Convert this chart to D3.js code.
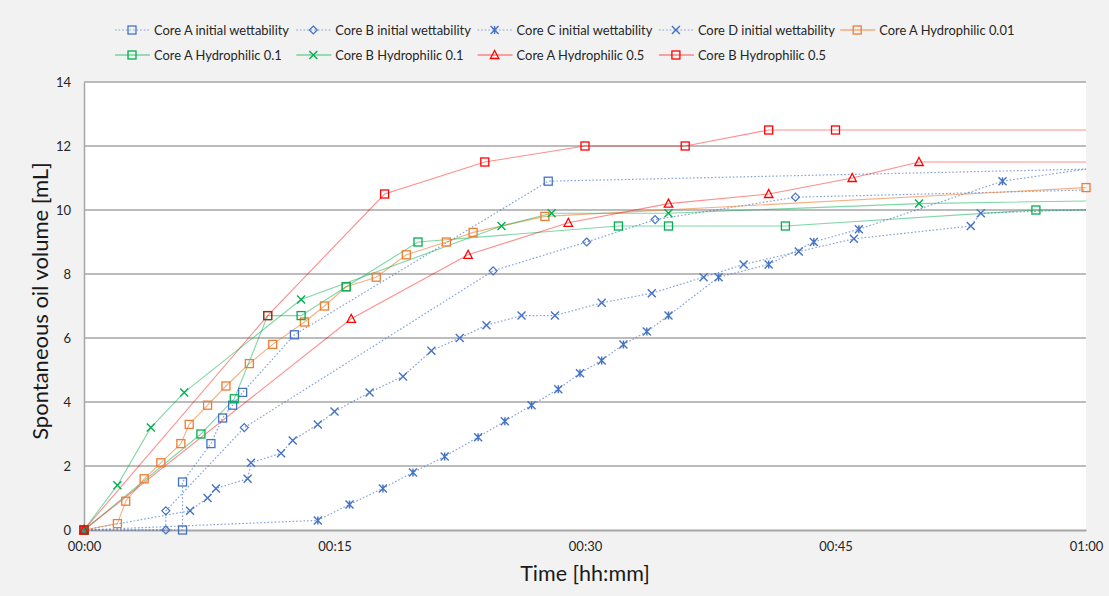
<!DOCTYPE html>
<html>
<head>
<meta charset="utf-8">
<script src="https://cdn.jsdelivr.net/npm/d3@7"></script>
<style>
  html, body { margin: 0; padding: 0; background: #f2f2f2; }
  svg { display: block; font-family: Lato, "Noto Sans", sans-serif; }
</style>
</head>
<body>
<svg id="chart" width="1109" height="596"></svg>
<script>
// ---------- DATA (time in minutes, volume in mL) ----------
const seriesNames = [
  "Core A initial wettability", "Core B initial wettability", "Core C initial wettability",
  "Core D initial wettability", "Core A Hydrophilic 0.01", "Core A Hydrophilic 0.1",
  "Core B Hydrophilic 0.1", "Core A Hydrophilic 0.5", "Core B Hydrophilic 0.5"
];

const coreAInitTime = [0, 5.9, 5.9, 7.6, 8.3, 8.9, 9.5, 12.6, 27.8, 62];
const coreAInitVol  = [0, 0, 1.5, 2.7, 3.5, 3.9, 4.3, 6.1, 10.9, 11.3];

const coreBInitTime = [0, 4.9, 4.9, 9.6, 24.5, 30.1, 34.2, 42.6, 62];
const coreBInitVol  = [0, 0, 0.6, 3.2, 8.1, 9.0, 9.7, 10.4, 10.65];

const coreCInitTime = [0, 14.0, 15.9, 17.9, 19.7, 21.6, 23.6, 25.2, 26.8, 28.4, 29.7, 31.0, 32.3, 33.7, 35.0, 38.0, 41.0, 43.7, 46.4, 55.0, 62];
const coreCInitVol  = [0, 0.3, 0.8, 1.3, 1.8, 2.3, 2.9, 3.4, 3.9, 4.4, 4.9, 5.3, 5.8, 6.2, 6.7, 7.9, 8.3, 9.0, 9.4, 10.9, 11.43];

const coreDInitTime = [0, 6.35, 7.4, 7.9, 9.8, 10.0, 11.8, 12.5, 14.0, 15.0, 17.1, 19.1, 20.8, 22.5, 24.1, 26.2, 28.2, 31.0, 34.0, 37.1, 39.5, 42.8, 46.1, 53.1, 53.7, 62];
const coreDInitVol  = [0, 0.6, 1.0, 1.3, 1.6, 2.1, 2.4, 2.8, 3.3, 3.7, 4.3, 4.8, 5.6, 6.0, 6.4, 6.7, 6.7, 7.1, 7.4, 7.9, 8.3, 8.7, 9.1, 9.5, 9.9, 10.05];

const coreAHyd001Time = [0, 2.0, 2.5, 3.6, 4.6, 5.8, 6.3, 7.4, 8.5, 9.9, 11.3, 13.2, 14.4, 15.7, 17.5, 19.3, 21.7, 23.3, 27.6, 60];
const coreAHyd001Vol  = [0, 0.2, 0.9, 1.6, 2.1, 2.7, 3.3, 3.9, 4.5, 5.2, 5.8, 6.5, 7.0, 7.6, 7.9, 8.6, 9.0, 9.3, 9.8, 10.7];

const coreAHyd01Time = [0, 7.0, 9.0, 11.0, 13.0, 15.7, 20.0, 32.0, 35.0, 42.0, 57.0, 62];
const coreAHyd01Vol  = [0, 3.0, 4.1, 6.7, 6.7, 7.6, 9.0, 9.5, 9.5, 9.5, 10.0, 10.0];

const coreBHyd01Time = [0, 2.0, 4.0, 6.0, 13.0, 25.0, 28.0, 35.0, 50.0, 62];
const coreBHyd01Vol  = [0, 1.4, 3.2, 4.3, 7.2, 9.5, 9.9, 9.9, 10.2, 10.3];

const coreAHyd05Time = [0, 16.0, 23.0, 29.0, 35.0, 41.0, 46.0, 50.0, 62];
const coreAHyd05Vol  = [0, 6.6, 8.6, 9.6, 10.2, 10.5, 11.0, 11.5, 11.5];

const coreBHyd05Time = [0, 11.0, 18.0, 24.0, 30.0, 36.0, 41.0, 45.0, 62];
const coreBHyd05Vol  = [0, 6.7, 10.5, 11.5, 12.0, 12.0, 12.5, 12.5, 12.5];

const xTickMinutes = [0, 15, 30, 45, 60];
const xTickLabels  = ["00:00", "00:15", "00:30", "00:45", "01:00"];
const yTicks = [0, 2, 4, 6, 8, 10, 12, 14];

// ---------- STYLE ----------
const styles = [
  { color: "#4472C4", dash: "1.6 2", marker: "square", lineOpacity: 0.65 },
  { color: "#4472C4", dash: "1.6 2", marker: "diamond", lineOpacity: 0.65 },
  { color: "#4472C4", dash: "1.6 2", marker: "star", lineOpacity: 0.65 },
  { color: "#4472C4", dash: "1.6 2", marker: "x", lineOpacity: 0.65 },
  { color: "#ED7D31", dash: null, marker: "square", lineOpacity: 0.6 },
  { color: "#00B050", dash: null, marker: "square", lineOpacity: 0.5 },
  { color: "#00B050", dash: null, marker: "x", lineOpacity: 0.5 },
  { color: "#FF0000", dash: null, marker: "triangle", lineOpacity: 0.45 },
  { color: "#FF0000", dash: null, marker: "square", lineOpacity: 0.45 }
];

const times = [coreAInitTime, coreBInitTime, coreCInitTime, coreDInitTime, coreAHyd001Time, coreAHyd01Time, coreBHyd01Time, coreAHyd05Time, coreBHyd05Time];
const vols  = [coreAInitVol, coreBInitVol, coreCInitVol, coreDInitVol, coreAHyd001Vol, coreAHyd01Vol, coreBHyd01Vol, coreAHyd05Vol, coreBHyd05Vol];

const series = seriesNames.map((name, i) => ({
  name, ...styles[i],
  points: times[i].map((t, j) => ({ t, v: vols[i][j] }))
}));

// ---------- LAYOUT ----------
const svg = d3.select("#chart");
const plot = { left: 84, right: 1086, top: 82, bottom: 530 };

svg.append("rect").attr("width", 1109).attr("height", 596).attr("fill", "#f2f2f2");
svg.append("rect")
  .attr("x", plot.left).attr("y", plot.top)
  .attr("width", plot.right - plot.left).attr("height", plot.bottom - plot.top)
  .attr("fill", "#ffffff");

const x = d3.scaleLinear().domain([0, 60]).range([plot.left, plot.right]);
const y = d3.scaleLinear().domain([0, 14]).range([plot.bottom, plot.top]);

// gridlines
svg.append("g").selectAll("line").data(yTicks.filter(d => d > 0)).join("line")
  .attr("x1", plot.left).attr("x2", plot.right)
  .attr("y1", d => y(d)).attr("y2", d => y(d))
  .attr("stroke", "#a6a6a6").attr("stroke-width", 1.3);

// axes
const yAxis = d3.axisLeft(y).tickValues(yTicks).tickSize(0).tickPadding(13);
const gy = svg.append("g").attr("transform", `translate(${plot.left},0)`).call(yAxis);
gy.select(".domain").attr("stroke", "#a6a6a6").attr("stroke-width", 1.5);
gy.selectAll("text").attr("font-size", 13).attr("fill", "#262626").attr("font-family", "Lato, sans-serif");

const xAxis = d3.axisBottom(x).tickValues(xTickMinutes).tickSize(0).tickPadding(12)
  .tickFormat((d, i) => xTickLabels[i]);
const gx = svg.append("g").attr("transform", `translate(0,${plot.bottom})`).call(xAxis);
gx.select(".domain").attr("stroke", "#a6a6a6").attr("stroke-width", 2);
gx.selectAll("text").attr("font-size", 13).attr("fill", "#262626").attr("font-family", "Lato, sans-serif");

// axis titles
svg.append("text")
  .attr("x", 585).attr("y", 581)
  .attr("text-anchor", "middle").attr("font-size", 21.5).attr("fill", "#1a1a1a")
  .text("Time [hh:mm]");
svg.append("text")
  .attr("transform", `translate(48,301) rotate(-90)`)
  .attr("text-anchor", "middle").attr("font-size", 22).attr("fill", "#1a1a1a")
  .text("Spontaneous oil volume [mL]");

// clip for lines
svg.append("clipPath").attr("id", "plotClip").append("rect")
  .attr("x", plot.left).attr("y", plot.top - 10)
  .attr("width", plot.right - plot.left).attr("height", plot.bottom - plot.top + 20);

// marker drawing
function drawMarker(g, type, color) {
  if (type === "square") {
    g.append("rect").attr("x", -4).attr("y", -4).attr("width", 8).attr("height", 8)
      .attr("fill", "none").attr("stroke", color).attr("stroke-width", 1.3);
  } else if (type === "diamond") {
    g.append("path").attr("d", "M0,-4L4,0L0,4L-4,0Z")
      .attr("fill", "none").attr("stroke", color).attr("stroke-width", 1.2);
  } else if (type === "triangle") {
    g.append("path").attr("d", "M0,-4.5L4.2,3.5L-4.2,3.5Z")
      .attr("fill", "none").attr("stroke", color).attr("stroke-width", 1.3);
  } else if (type === "x") {
    g.append("path").attr("d", "M-4,-4L4,4M-4,4L4,-4")
      .attr("fill", "none").attr("stroke", color).attr("stroke-width", 1.4);
  } else if (type === "star") {
    g.append("path").attr("d", "M-4,-4L4,4M-4,4L4,-4M0,-4L0,4")
      .attr("fill", "none").attr("stroke", color).attr("stroke-width", 1.4);
  }
}

const line = d3.line().x(d => x(d.t)).y(d => y(d.v));

const seriesG = svg.append("g");
series.forEach(s => {
  seriesG.append("path").datum(s.points)
    .attr("d", line)
    .attr("clip-path", "url(#plotClip)")
    .attr("fill", "none")
    .attr("stroke", s.color)
    .attr("stroke-opacity", s.lineOpacity)
    .attr("stroke-width", s.dash ? 1.2 : 1.1)
    .attr("stroke-dasharray", s.dash);
});
series.forEach(s => {
  s.points.filter(p => p.t <= 60).forEach(p => {
    const g = seriesG.append("g").attr("transform", `translate(${x(p.t)},${y(p.v)})`);
    drawMarker(g, s.marker, s.color);
  });
});

// legend
series.forEach((s, i) => {
  const col = i < 5 ? i : i - 5;
  const row = i < 5 ? 0 : 1;
  const tx = 154 + col * 181.3;
  const ty = row === 0 ? 30 : 55;
  const g = svg.append("g");
  g.append("line").attr("x1", tx - 39).attr("x2", tx - 4).attr("y1", ty).attr("y2", ty)
    .attr("stroke", s.color).attr("stroke-opacity", s.lineOpacity)
    .attr("stroke-width", s.dash ? 1.2 : 1.3).attr("stroke-dasharray", s.dash);
  const mg = g.append("g").attr("transform", `translate(${tx - 22},${ty})`);
  drawMarker(mg, s.marker, s.color);
  g.append("text").attr("x", tx).attr("y", ty).attr("dy", "0.35em")
    .attr("font-size", 12.9).attr("fill", "#262626").text(s.name);
});
</script>
</body>
</html>
